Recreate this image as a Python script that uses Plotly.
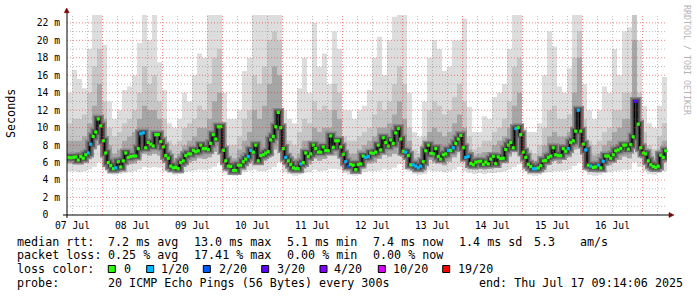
import plotly.graph_objects as go
from datetime import datetime, timedelta

# ---------------- data ----------------
START = datetime(2025, 7, 7, 9, 48)
HOURS = 240

# hourly median rtt (ms)
median_ms = [
    6.6, 6.55, 6.6, 6.65, 6.3, 6.7, 6.5, 6.9, 7.1, 8.1,
    9.0, 9.5, 11.0, 10.2, 8.5, 7.1, 6.0, 5.65, 5.3, 5.4,
    6.1, 5.5, 6.2, 7.1, 6.6, 6.7, 6.75, 6.75, 7.6, 9.3,
    9.4, 7.7, 8.3, 8.1, 7.9, 9.2, 9.2, 8.4, 7.8, 6.8,
    6.5, 5.6, 5.4, 5.45, 5.3, 6.0, 6.2, 6.8, 7.0, 7.0,
    7.4, 7.25, 7.35, 8.0, 7.6, 7.6, 7.5, 8.2, 9.2, 8.7,
    10.1, 10.1, 7.4, 6.2, 5.6, 5.55, 5.1, 5.1, 5.7, 5.7,
    6.1, 6.4, 6.7, 7.4, 7.2, 8.0, 6.2, 6.8, 6.9, 7.1,
    7.25, 8.6, 9.0, 10.1, 11.75, 10.0, 7.6, 6.6, 6.2, 5.8,
    5.4, 5.3, 5.3, 5.85, 6.0, 7.1, 6.7, 7.0, 8.0, 7.6,
    7.2, 7.2, 7.8, 7.4, 7.35, 9.05, 7.75, 8.5, 8.5, 7.8,
    6.95, 6.1, 5.6, 5.8, 5.7, 5.2, 5.8, 5.85, 6.75, 6.6,
    6.7, 7.1, 7.05, 7.2, 8.0, 7.45, 8.85, 8.3, 7.9, 8.6,
    8.2, 9.4, 9.9, 8.7, 7.3, 7.2, 6.8, 5.75, 5.75, 5.6,
    5.4, 5.6, 6.1, 7.35, 8.0, 7.05, 7.0, 7.6, 6.7, 6.4,
    6.9, 7.0, 7.4, 7.4, 7.7, 8.2, 8.7, 9.1, 7.7, 6.6,
    6.7, 5.9, 5.75, 6.05, 6.1, 6.15, 5.8, 6.05, 5.85, 6.4,
    6.7, 5.9, 6.65, 6.45, 6.5, 7.5, 8.0, 8.3, 7.7, 9.9,
    10.0, 9.2, 7.2, 6.6, 5.8, 5.55, 5.3, 5.3, 5.4, 5.65,
    6.2, 6.25, 6.6, 6.75, 7.7, 6.9, 6.8, 6.8, 7.6, 7.3,
    7.6, 8.3, 8.5, 9.6, 12.0, 9.6, 8.1, 7.45, 5.7, 5.6,
    5.45, 5.5, 5.7, 5.4, 6.15, 6.75, 6.75, 6.5, 6.9, 7.35,
    7.45, 7.6, 8.0, 8.0, 7.55, 8.05, 8.95, 13.0, 10.4, 7.7,
    7.1, 7.0, 6.2, 5.75, 5.55, 5.45, 5.6, 6.85, 6.6, 7.35,
]

# hourly lost pings (out of 20)
loss_pings = [
    0, 0, 0, 0, 0, 0, 0, 0, 1, 1, 0, 0, 0, 0, 0, 0, 0, 0, 0, 1,
    0, 0, 0, 0, 0, 0, 0, 0, 0, 1, 1, 0, 0, 0, 0, 0, 0, 0, 0, 0,
    0, 0, 0, 0, 0, 0, 0, 0, 0, 0, 0, 0, 0, 0, 0, 0, 0, 0, 0, 0,
    0, 0, 0, 0, 0, 0, 0, 0, 0, 0, 0, 0, 1, 1, 0, 0, 0, 0, 0, 0,
    0, 0, 0, 0, 0, 0, 0, 1, 0, 0, 0, 0, 0, 1, 0, 0, 0, 0, 0, 0,
    0, 0, 0, 0, 0, 0, 0, 0, 0, 0, 0, 1, 2, 0, 0, 0, 0, 0, 0, 1,
    1, 0, 0, 0, 0, 0, 0, 0, 0, 0, 0, 0, 0, 0, 0, 1, 0, 0, 1, 1,
    1, 1, 0, 0, 0, 0, 0, 0, 0, 0, 0, 0, 1, 0, 1, 0, 0, 0, 0, 1,
    1, 0, 0, 0, 0, 0, 0, 0, 0, 0, 0, 0, 0, 0, 0, 0, 0, 0, 0, 1,
    0, 0, 0, 0, 0, 0, 1, 1, 0, 0, 0, 0, 0, 0, 0, 0, 0, 0, 0, 0,
    1, 0, 0, 0, 1, 0, 0, 1, 0, 1, 0, 0, 1, 0, 1, 0, 0, 0, 0, 0,
    0, 0, 0, 0, 0, 0, 0, 3, 0, 0, 0, 0, 0, 0, 0, 0, 0, 0, 0, 0,
]

# smoke (ping distribution) per 2-hour step, ms
smoke_max = [
    14, 16.6, 15.6, 14.5, 19, 23, 23, 19.5, 13, 11, 12, 14.3, 14.7, 16, 19.7, 23, 20, 23, 17.5, 14.3,
    10.5, 10, 11, 14, 13, 16, 18.5, 18, 23, 23, 23, 14, 11, 11, 12, 16.5, 18, 23, 23, 23,
    23, 23, 23, 12, 11, 10.5, 14.5, 18, 14, 22, 17, 18.5, 15, 21, 19, 12, 12, 11, 12, 12.5,
    14.3, 18, 20.4, 16, 20, 22.7, 23, 23, 14, 9.5, 9, 13, 18, 20, 19, 16.5, 17, 20, 20, 22.5,
    12.4, 9.5, 9.5, 11.3, 11, 13.5, 14, 15, 19, 23, 23, 10, 9.5, 9.5, 10.5, 16, 21, 19.3, 14.7, 14,
    16.8, 23, 23, 15, 12, 11, 12, 14.7, 14, 19, 16, 21, 21.5, 23, 20, 12.5, 10.5, 10, 12.5, 15.8,
]
smoke_p90 = [
    10.5, 11, 11, 11.5, 14, 17, 19, 13, 10, 9, 9.5, 10.5, 11, 12, 14, 17, 15, 16, 13, 11,
    8.5, 8, 8.5, 10, 10.5, 11, 12.5, 12, 15, 18, 19, 10, 8, 8, 9, 11, 12, 16, 15, 17,
    20, 21, 20, 9.5, 8.5, 8, 9.5, 11, 10.5, 13, 12, 12.5, 12, 15, 14, 9, 8.5, 8.5, 9, 9.5,
    10, 11.5, 13, 12, 13, 15, 17, 15, 10, 7.5, 7, 9, 12, 13, 12.5, 11.5, 12, 13.5, 15, 13,
    9, 7.5, 7.8, 8.5, 8.5, 9.5, 10, 11, 13, 17, 18, 8.5, 7.5, 7, 8, 10, 12, 12.5, 11, 11,
    11.5, 18, 21, 11, 8.5, 8, 8.5, 9.5, 10, 12, 12, 14, 14, 23, 14, 9.5, 8, 7.5, 9, 10.5,
]
smoke_p75 = [
    8.5, 8.5, 8.5, 9, 10.5, 12.5, 15, 11, 8, 7, 7.5, 8.5, 9, 9.5, 11, 12.5, 12, 12, 11, 9,
    7.5, 6.5, 7, 8, 8.5, 9, 10, 10, 11, 13, 14, 8, 6.8, 6.5, 7.5, 8.5, 9.5, 12, 11, 12.5,
    15, 17, 16, 8, 7, 6.5, 7, 8.5, 8.5, 10, 9.5, 10, 10, 12, 11, 7.5, 7, 7, 7.5, 8,
    8.5, 9, 10, 10, 10.5, 11.5, 13, 11, 8.5, 6.5, 6.2, 7.5, 9.5, 10, 9.5, 9, 9.5, 10.5, 11.5, 10,
    7.5, 6.8, 7, 7.2, 7.2, 8, 8.5, 9, 10, 12.5, 14, 7.8, 6.5, 6.2, 6.8, 8, 9, 9.5, 9, 9,
    9.5, 14, 18, 9, 7, 6.8, 7, 8, 8.5, 9.5, 10, 11, 11, 20, 11, 8, 7, 6.5, 7.5, 8.5,
]
smoke_lo = [
    5.9, 5.9, 5.8, 6.0, 6.4, 7.5, 8.5, 6.5, 5.2, 5.0, 5.2, 5.6, 5.8, 5.9, 6.6, 7.0, 6.8, 7.0, 6.8, 6.0,
    5.3, 5.0, 5.1, 5.6, 6.0, 6.2, 6.5, 6.4, 6.6, 7.2, 8.0, 5.6, 5.0, 4.8, 5.1, 5.5, 6.0, 6.5, 5.8, 6.2,
    6.8, 7.5, 8.5, 5.8, 5.2, 4.9, 5.0, 5.6, 5.8, 6.5, 6.2, 6.4, 6.8, 6.8, 6.6, 5.4, 5.0, 4.9, 5.1, 5.7,
    5.9, 6.0, 6.4, 6.9, 6.7, 7.0, 7.8, 6.6, 5.9, 5.1, 5.0, 5.2, 6.3, 6.0, 6.1, 5.7, 6.1, 6.6, 7.2, 6.2,
    5.4, 5.2, 5.3, 5.2, 5.3, 5.5, 5.7, 6.0, 6.7, 7.3, 7.8, 5.8, 5.0, 4.9, 5.0, 5.4, 5.8, 6.2, 5.9, 6.3,
    6.6, 7.5, 8.5, 6.3, 5.0, 4.9, 5.0, 5.6, 5.7, 6.1, 6.3, 6.7, 6.5, 8.0, 7.2, 6.0, 5.2, 5.0, 5.4, 6.0,
]
smoke_min = [
    5.0, 5.0, 4.9, 5.0, 5.2, 5.5, 6.0, 5.3, 4.7, 4.6, 4.7, 4.8, 4.9, 5.0, 5.2, 5.5, 5.4, 5.5, 5.4, 5.0,
    4.8, 4.6, 4.7, 4.9, 5.0, 5.1, 5.2, 5.2, 5.3, 5.5, 6.0, 4.9, 4.6, 4.5, 4.7, 4.9, 5.1, 5.2, 5.0, 5.0,
    5.2, 5.5, 6.0, 4.9, 4.7, 4.5, 4.6, 4.8, 4.9, 5.2, 5.0, 5.1, 5.3, 5.3, 5.2, 4.8, 4.6, 4.5, 4.6, 4.9,
    5.0, 5.0, 5.1, 5.3, 5.2, 5.4, 5.8, 5.2, 5.0, 4.7, 4.6, 4.7, 5.1, 5.0, 5.0, 4.9, 5.0, 5.2, 5.5, 5.0,
    4.8, 4.7, 4.8, 4.7, 4.8, 4.8, 4.9, 5.0, 5.2, 5.5, 5.8, 5.0, 4.6, 4.5, 4.6, 4.8, 4.9, 5.0, 5.0, 5.1,
    5.2, 5.6, 6.0, 5.1, 4.6, 4.5, 4.6, 4.8, 4.9, 5.0, 5.1, 5.2, 5.2, 6.0, 5.5, 5.0, 4.7, 4.6, 4.8, 5.0,
]

day_labels = ["07 Jul", "08 Jul", "09 Jul", "10 Jul", "11 Jul",
              "12 Jul", "13 Jul", "14 Jul", "15 Jul", "16 Jul"]
y_ticks = [0, 2, 4, 6, 8, 10, 12, 14, 16, 18, 20, 22]

loss_levels = [0, 1, 2, 3, 4, 10, 19]
loss_labels = ["0", "1/20", "2/20", "3/20", "4/20", "10/20", "19/20"]
loss_colors = ["#26ff00", "#00b8ff", "#0059ff", "#5e00ff", "#7e00ff", "#dd00ff", "#ff0000"]

stats_rtt = ["median rtt:", "7.2 ms avg", "13.0 ms max", "5.1 ms min",
             "7.4 ms now", "1.4 ms sd", "5.3", "am/s"]
stats_loss = ["packet loss:", "0.25 % avg", "17.41 % max", "0.00 % min", "0.00 % now"]
probe_text = ["probe:", "20 ICMP Echo Pings (56 Bytes) every 300s",
              "end: Thu Jul 17 09:14:06 2025"]

# ---------------- layout geometry (pixels) ----------------
W, H = 697, 297
ML, MR, MT, MB = 67, 30, 15, 82
PW, PH = W - ML - MR, H - MT - MB
Y_TOP = 22.9
MONO = "DejaVu Sans Mono"
RED_GRID = "rgba(225,40,40,0.55)"
GRAY_GRID = "rgba(110,110,110,0.45)"


def px(x):
    return (x - ML) / PW


def py(y):
    return (H - MB - y) / PH


def ext(a):
    return list(a) + [a[-1]]


t_h = [START + timedelta(hours=k) for k in range(HOURS + 1)]
t_2h = [START + timedelta(hours=2 * j) for j in range(len(smoke_max) + 1)]
t_mid = [START + timedelta(hours=k + 0.5) for k in range(HOURS)]

fig = go.Figure()


def band(lo, hi, color):
    fig.add_trace(go.Scatter(x=t_2h, y=ext(lo), mode="lines",
                             line=dict(width=0, shape="hv"),
                             hoverinfo="skip", showlegend=False))
    fig.add_trace(go.Scatter(x=t_2h, y=ext(hi), mode="lines",
                             line=dict(width=0, shape="hv"),
                             fill="tonexty", fillcolor=color,
                             hoverinfo="skip", showlegend=False))


band(smoke_min, smoke_max, "#dddddd")
band(smoke_lo, smoke_p90, "#c6c6c6")
band(smoke_lo, smoke_p75, "#a6a6a6")

for w, c in [(9, "#8a8a8a"), (6, "#5a5a5a"), (3, "#333333")]:
    fig.add_trace(go.Scatter(x=t_h, y=ext(median_ms), mode="lines",
                             line=dict(color=c, width=w, shape="hv"),
                             hoverinfo="skip", showlegend=False))
fig.add_trace(go.Scatter(x=t_h, y=ext(median_ms), mode="lines",
                         line=dict(color="#000000", width=1, shape="hv"),
                         hoverinfo="skip", showlegend=False))

cmap = dict(zip(loss_levels, loss_colors))
fig.add_trace(go.Scatter(x=t_mid, y=median_ms, mode="markers",
                         marker=dict(symbol="square", size=3.2,
                                     color=[cmap[v] for v in loss_pings],
                                     line=dict(width=0)),
                         hoverinfo="skip", showlegend=False))

shapes = []
# grid (drawn above the smoke, like rrdtool)
for v in range(1, 23):
    major = v % 2 == 0
    shapes.append(dict(type="line", xref="paper", yref="y", x0=0, x1=1, y0=v, y1=v,
                       layer="above",
                       line=dict(color=RED_GRID if major else GRAY_GRID,
                                 width=1, dash="1px,2px")))
t = datetime(START.year, START.month, START.day)
end = START + timedelta(hours=HOURS)
while t <= end:
    if t > START:
        major = t.hour == 0
        shapes.append(dict(type="line", xref="x", yref="paper", x0=t, x1=t, y0=0, y1=1,
                           layer="above",
                           line=dict(color=RED_GRID if major else GRAY_GRID,
                                     width=1, dash="1px,2px")))
    t += timedelta(hours=6)

# axes with arrows
shapes.append(dict(type="line", xref="paper", yref="paper", x0=px(67), x1=px(67),
                   y0=py(218), y1=py(11), layer="above", line=dict(color="#000", width=1)))
shapes.append(dict(type="line", xref="paper", yref="paper", x0=px(63), x1=px(670),
                   y0=py(215), y1=py(215), layer="above", line=dict(color="#000", width=1)))
shapes.append(dict(type="path", xref="paper", yref="paper", layer="above",
                   path=f"M {px(64.2)},{py(12.7)} L {px(69.2)},{py(12.7)} L {px(66.7)},{py(8)} Z",
                   fillcolor="#7f0000", line=dict(color="#7f0000", width=0.5)))
shapes.append(dict(type="path", xref="paper", yref="paper", layer="above",
                   path=f"M {px(669)},{py(212.5)} L {px(669)},{py(217.5)} L {px(674)},{py(215)} Z",
                   fillcolor="#7f0000", line=dict(color="#7f0000", width=0.5)))

# loss colour legend squares
sq_x = [108.3, 146.7, 203.3, 261.7, 320, 378.3, 442.7]
lab_x = [122.7, 160.3, 218.3, 276, 333.3, 392.3, 457.3]
for xs, c in zip(sq_x, loss_colors):
    shapes.append(dict(type="rect", xref="paper", yref="paper",
                       x0=px(xs), x1=px(xs + 7), y0=py(272.5), y1=py(265.5),
                       fillcolor=c, line=dict(color="#000", width=1)))

annotations = []


def txt(x, y, s, size=11.7, color="#000", angle=0, xanchor="left"):
    annotations.append(dict(x=px(x), y=py(y), xref="paper", yref="paper", text=s,
                            showarrow=False, xanchor=xanchor, yanchor="middle",
                            textangle=angle, borderpad=0,
                            font=dict(family=MONO, size=size, color=color)))


for xx, s in zip([16, 107.3, 193.3, 286, 372.3, 458.3, 533.3, 579.3], stats_rtt):
    txt(xx, 241.7, s)
for xx, s in zip([16, 107.3, 193.3, 286, 372.3], stats_loss):
    txt(xx, 255.3, s)
txt(16, 269.3, "loss color:")
for xx, s in zip(lab_x, loss_labels):
    txt(xx, 269.3, s)
for xx, s in zip([16, 107.3, 478.3], probe_text):
    txt(xx, 282.7, s)

txt(11, 114, "Seconds", angle=-90, xanchor="center")
txt(687, 60, "RRDTOOL / TOBI OETIKER", size=8.3, color="#b4b4b4", angle=90, xanchor="center")

fig.update_layout(
    width=W, height=H,
    margin=dict(l=ML, r=MR, t=MT, b=MB),
    paper_bgcolor="#ffffff", plot_bgcolor="#ffffff",
    showlegend=False,
    shapes=shapes, annotations=annotations,
    xaxis=dict(range=[START, end], showgrid=False, zeroline=False, showline=False,
               tickmode="array",
               tickvals=[datetime(2025, 7, 7 + i, 12) for i in range(len(day_labels))],
               ticktext=day_labels, ticks="", ticklabelstandoff=3,
               tickfont=dict(family=MONO, size=9.7, color="#000")),
    yaxis=dict(range=[0, Y_TOP], showgrid=False, zeroline=False, showline=False,
               tickmode="array", tickvals=y_ticks,
               ticktext=["0\u00a0\u00a0" if v == 0 else f"{v} m" for v in y_ticks],
               ticks="", ticklabelstandoff=6,
               tickfont=dict(family=MONO, size=9.7, color="#000")),
)

fig.write_html("out.html")
